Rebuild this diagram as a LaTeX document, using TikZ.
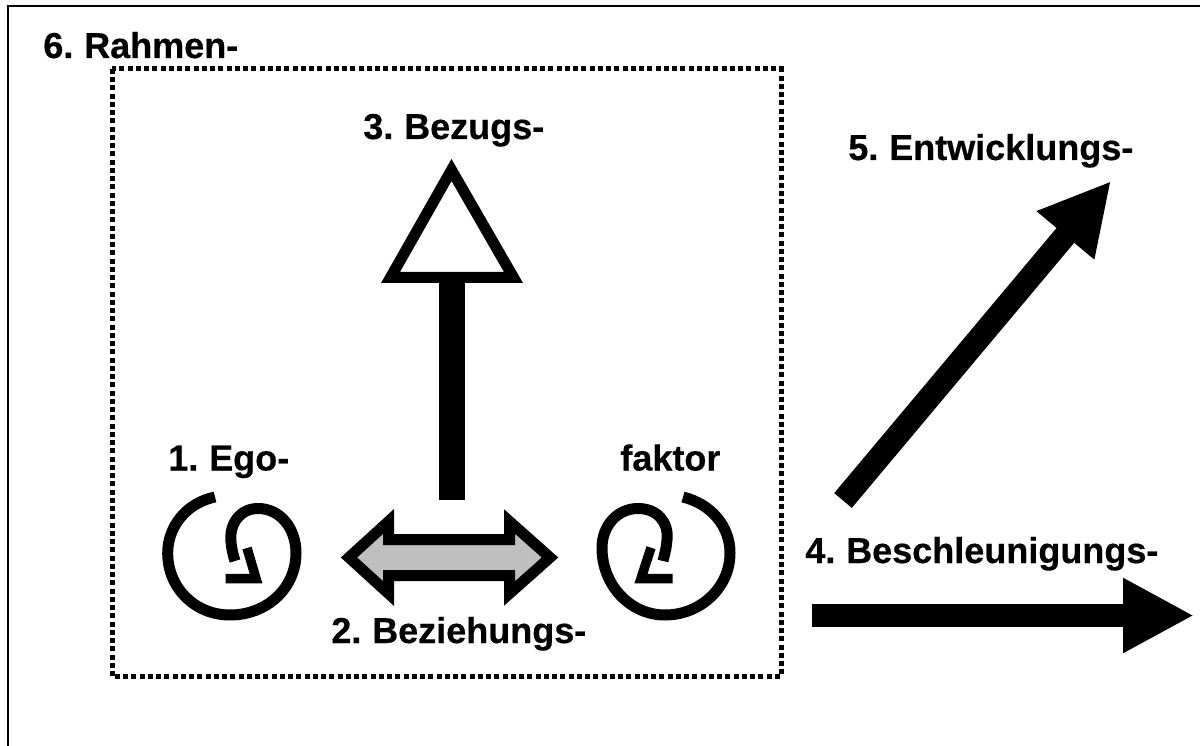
\documentclass[tikz,border=0pt]{standalone}
\usepackage{fontspec}
\setmainfont{Liberation Sans}[WordSpace=0.75,BoldFeatures={FakeBold=0.5}]
\usetikzlibrary{%
  arrows.meta%
}
\tikzset{
  label/.style={anchor=base west,inner sep=0pt,font=\fontsize{20.5pt}{24pt}\selectfont\bfseries},
  bigarrow/.style={line width=0.46cm,-{Triangle[length=1.42cm,width=1.4cm]}},
  swirl/.style={line width=0.22cm},
  chevron/.style={line width=0.19cm,miter limit=10}
}

\begin{document}
\begin{tikzpicture}[x=0.02cm,y=-0.02cm]
    \useasboundingbox (0,0) rectangle (1200,746);
    \draw[line width=0.03cm] (8,746) -- (8,6) -- (1200,6);
    \draw[line width=0.1cm,dash pattern=on 0.1cm off 0.065cm] (112,69) rectangle (781,676.5);
    \node[label] (rahmen) at (43,58) {6. Rahmen-};
    \node[label] (bezugs) at (363,139) {3. Bezugs-};
    \node[label] (entwicklung) at (848,160) {5. Entwicklungs-};
    \node[label] (beschleunigung) at (805,563) {4. Beschleunigungs-};
    \node[label] (ego) at (168,470.5) {1. Ego-};
    \node[label] (faktor) at (620,470.5) {faktor};
    \node[label] (beziehung) at (331,643) {2. Beziehungs-};
    % triangle with its stem
    \coordinate (stemfoot) at (452,500);
    \coordinate (stemtop) at (452,278);
    \draw[line width=0.52cm] (stemfoot) -- (stemtop);
    \draw[line width=0.22cm,fill=white] (451.5,170) -- (390.5,277.5) -- (513.5,277.5) -- cycle;
    % double arrow
    \draw[line width=0.22cm,fill=black!25] (349,557.5) -- (388.5,521.5) -- (388.5,539.5) -- (509.5,539.5)
      -- (509.5,521.5) -- (550,557.5) -- (509.5,593.5) -- (509.5,575.5) -- (388.5,575.5) -- (388.5,593.5) -- cycle;
    % big arrows
    \coordinate (tailh) at (812,615.5);
    \coordinate (tiph) at (1194,615.5);
    \coordinate (taild) at (843,500.5);
    \coordinate (tipd) at (1111,181);
    \draw[bigarrow] (tailh) -- (tiph);
    \draw[bigarrow] (taild) -- (tipd);
    % swirls
    \draw[swirl] (215,497) .. controls (186,503) and (167.7,527) .. (167.7,553)
      .. controls (167.7,588) and (195,615) .. (230,615) .. controls (267,615) and (296,588) .. (296,553)
      .. controls (296,528) and (280,508.5) .. (258,508.5) .. controls (240,508.5) and (229,524) .. (231,542)
      .. controls (231.5,548) and (233,555) .. (235,561);
    \draw[chevron] (247,548) -- (256,578.5) -- (225.5,578.5);
    \draw[swirl] (683,497) .. controls (711,504) and (730,526) .. (730,553)
      .. controls (730,588) and (700,615) .. (665,615) .. controls (630,615) and (602,585) .. (602,548)
      .. controls (602,525) and (618,508.5) .. (638,508.5) .. controls (657,508.5) and (669,522) .. (667,540)
      .. controls (666.5,547) and (665,553) .. (663,561);
    \draw[chevron] (651,547.7) -- (641,578.5) -- (672.7,578.5);
\end{tikzpicture}
\end{document}
